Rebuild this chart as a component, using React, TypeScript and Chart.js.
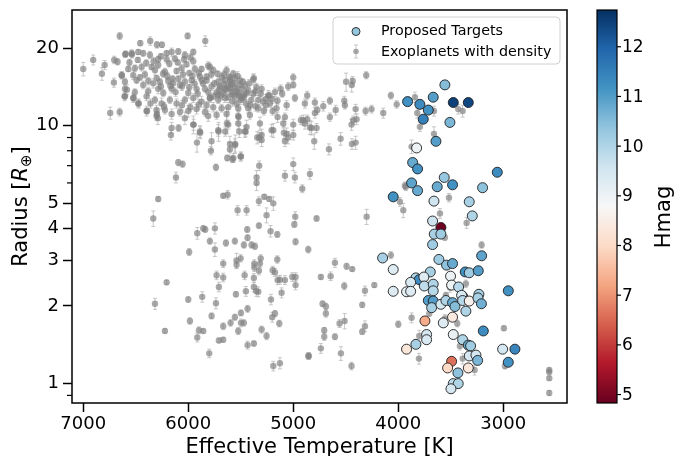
import { useEffect, useRef } from "react";
import { Chart, registerables } from "chart.js";

Chart.register(...registerables);

// Known exoplanets with measured density: [Teff (K), radius (R_earth), radius error]
const giantPlanets: [number, number, number][] = [
  [7000, 16.6, 1.0], [6905, 18.0, 0.8], [6822, 15.9, 0.9], [6796, 17.2, 0.7], [6705, 18.0, 0.6],
  [6673, 17.7, 0.5], [6653, 22.3, 0.7], [6708, 14.7, 0.6], [6743, 11.2, 0.6], [6653, 11.3, 0.4],
  [6600, 18.9, 0.5], [6631, 15.7, 0.5], [6606, 13.0, 0.5], [6584, 13.8, 0.6], [6536, 18.9, 0.6],
  [6457, 20.9, 0.5], [6362, 21.3, 0.8], [6298, 20.6, 0.6], [6250, 20.6, 0.5], [6006, 22.3, 0.6],
  [5838, 21.3, 1.0], [6520, 12.8, 0.4], [6472, 12.2, 0.5], [6393, 11.4, 0.3], [6298, 11.1, 0.5],
  [6289, 10.7, 0.6], [6165, 9.2, 0.4], [6092, 9.8, 0.3], [5949, 10.1, 0.5], [5886, 9.4, 0.5],
  [5917, 8.6, 0.7], [5711, 9.5, 0.8], [5648, 9.5, 0.4], [5632, 10.2, 0.9], [5520, 10.8, 0.6],
  [5552, 8.5, 0.7],
  [6596, 19.0, 0.5], [6539, 19.1, 0.6], [6476, 19.3, 0.4], [6429, 19.1, 0.5], [6365, 18.8, 0.6],
  [6286, 18.1, 0.5], [6206, 19.1, 0.4], [6158, 19.3, 0.7], [6095, 19.4, 0.5], [6032, 18.8, 0.6],
  [5952, 19.3, 0.5], [5952, 17.8, 0.6], [6016, 17.3, 0.4], [6127, 18.2, 0.5], [6206, 18.1, 0.6],
  [6286, 17.2, 0.5], [6349, 16.9, 0.4], [6444, 16.9, 0.6], [6508, 16.7, 0.5], [6571, 16.6, 0.4],
  [6635, 15.7, 0.5], [6524, 15.7, 0.6], [6413, 15.8, 0.5], [6317, 16.4, 0.7], [6222, 16.2, 0.5],
  [6111, 16.3, 0.4], [6063, 16.7, 0.6], [5937, 16.6, 0.5], [5873, 16.6, 0.4], [5794, 16.9, 0.6],
  [6603, 14.8, 0.5], [6492, 15.0, 0.4], [6429, 14.4, 0.5], [6333, 14.6, 0.6], [6270, 14.8, 0.4],
  [6190, 14.9, 0.5], [6143, 14.6, 0.6], [6095, 15.2, 0.4], [6032, 14.8, 0.5], [5968, 15.0, 0.3],
  [5889, 15.5, 0.5], [5825, 15.0, 0.4], [6603, 13.9, 0.5], [6508, 13.5, 0.4], [6381, 13.6, 0.5],
  [6286, 13.9, 0.6], [6238, 13.4, 0.4], [6158, 13.9, 0.5], [6079, 14.4, 0.4], [6000, 13.4, 0.6],
  [5921, 13.9, 0.5], [5841, 13.9, 0.4], [6603, 13.0, 0.4], [6524, 12.8, 0.5], [6476, 12.2, 0.4],
  [6397, 13.0, 0.5], [6317, 12.6, 0.4], [6254, 12.2, 0.6], [6175, 12.6, 0.4], [6111, 12.2, 0.5],
  [6032, 12.6, 0.4], [5952, 12.8, 0.5], [5873, 12.4, 0.6], [5794, 12.8, 0.4], [6302, 11.5, 0.5],
  [6222, 11.5, 0.4], [6158, 11.1, 0.5], [6079, 11.3, 0.4], [6000, 11.4, 0.6], [5921, 11.6, 0.5],
  [5841, 11.3, 0.4], [6397, 11.4, 0.5], [6302, 10.9, 0.4], [6158, 9.8, 0.5], [6032, 10.7, 0.6],
  [5952, 10.1, 0.8], [5889, 9.5, 0.5],
  [6200, 15.6, 0.5], [6150, 15.2, 0.4], [6050, 15.8, 0.5], [5990, 16.0, 0.4], [5900, 16.0, 0.5],
  [6260, 14.2, 0.4], [6120, 13.5, 0.5], [5990, 14.1, 0.4], [5940, 14.6, 0.5], [5860, 14.6, 0.4],
  [6360, 12.2, 0.5], [6230, 11.9, 0.4], [6060, 12.0, 0.5], [5980, 11.8, 0.4], [5900, 12.1, 0.5],
  [6560, 17.6, 0.5], [6480, 18.0, 0.4], [6400, 17.5, 0.5], [6330, 17.8, 0.6], [6260, 18.6, 0.4],
  [6180, 17.4, 0.5], [6100, 17.6, 0.4], [6040, 18.1, 0.5], [5980, 18.4, 0.6], [6460, 15.4, 0.4],
  [6380, 14.9, 0.5], [6300, 15.3, 0.4], [6240, 15.9, 0.5], [6170, 14.3, 0.4], [6060, 14.2, 0.5],
  [5960, 15.6, 0.4], [5910, 13.3, 0.5], [5870, 15.0, 0.4],
  [5810, 17.1, 0.6], [5762, 16.4, 0.5], [5635, 16.4, 0.6], [5571, 15.9, 0.5], [5825, 15.5, 0.4],
  [5714, 14.8, 0.5], [5651, 15.0, 0.4], [5603, 14.8, 0.5], [5508, 15.0, 0.6], [5381, 15.1, 0.7],
  [5778, 14.2, 0.5], [5698, 14.2, 0.4], [5619, 14.2, 0.5], [5556, 14.0, 0.6], [5460, 14.3, 0.5],
  [5810, 13.5, 0.4], [5730, 13.5, 0.5], [5667, 13.4, 0.4], [5587, 13.5, 0.5], [5524, 13.4, 0.4],
  [5429, 13.7, 0.5], [5794, 12.8, 0.5], [5714, 12.6, 0.4], [5651, 12.8, 0.5], [5556, 13.0, 0.4],
  [5492, 12.8, 0.5], [5444, 13.4, 0.4], [5333, 12.6, 0.5], [5238, 13.1, 0.6], [5825, 12.0, 0.4],
  [5762, 11.8, 0.5], [5682, 11.7, 0.4], [5619, 11.8, 0.5], [5524, 11.7, 0.4], [5429, 11.7, 0.5],
  [5333, 11.7, 0.4], [5159, 11.7, 0.6], [5063, 12.0, 0.5], [4889, 12.2, 0.5], [5810, 10.9, 0.5],
  [5730, 11.0, 0.4], [5635, 11.1, 0.6], [5524, 10.9, 0.5], [5413, 11.0, 0.4], [5524, 10.2, 0.5],
  [5444, 9.9, 0.6], [5714, 9.6, 0.5], [5619, 10.1, 0.4], [5460, 9.5, 0.5], [5317, 10.2, 0.6],
  [5301, 9.2, 0.5], [5190, 9.6, 0.6], [5063, 9.3, 0.5], [5079, 8.7, 0.4], [4905, 10.5, 0.5],
  [4825, 9.8, 0.6], [5603, 8.5, 0.6], [5556, 8.4, 0.5], [5778, 8.7, 0.7], [5603, 8.1, 0.5],
  [5750, 14.6, 0.4], [5700, 13.9, 0.5], [5660, 14.5, 0.4], [5640, 13.8, 0.5], [5600, 14.0, 0.4],
  [5580, 13.2, 0.5], [5560, 14.6, 0.4], [5540, 13.7, 0.5], [5510, 14.4, 0.4], [5490, 13.9, 0.5],
  [5470, 13.2, 0.4], [5690, 13.1, 0.5], [5620, 12.9, 0.4], [5580, 12.4, 0.5], [5540, 12.2, 0.4],
  [5680, 15.4, 0.5], [5610, 15.5, 0.4], [5530, 15.6, 0.6], [5760, 13.0, 0.4], [5500, 12.6, 0.5],
  [5450, 12.2, 0.4], [5400, 12.6, 0.5], [5380, 13.3, 0.4], [5350, 14.1, 0.5], [5290, 12.4, 0.4],
  [5780, 15.8, 0.5], [5720, 15.9, 0.4], [5660, 15.8, 0.5], [5600, 15.2, 0.4], [5560, 15.3, 0.5],
  [5480, 14.8, 0.4], [5420, 14.6, 0.5], [5720, 13.2, 0.4], [5650, 13.9, 0.5], [5590, 14.5, 0.4],
  [5520, 13.1, 0.5], [5470, 12.9, 0.4], [5360, 13.6, 0.5], [5310, 13.3, 0.4], [5260, 12.7, 0.5],
  [5410, 12.0, 0.4], [5360, 11.9, 0.5], [5280, 11.4, 0.4], [5200, 12.7, 0.5], [5150, 12.5, 0.4],
  [5120, 13.9, 0.5],
  [4305, 15.7, 0.5], [4497, 14.8, 1.2], [4434, 14.9, 0.6], [4443, 14.4, 0.9], [5000, 15.4, 0.5],
  [5000, 14.4, 0.4], [5048, 14.2, 0.5], [5105, 13.3, 0.4], [5174, 13.5, 0.5], [5229, 13.1, 0.4],
  [5301, 13.9, 0.5], [5375, 15.3, 0.6], [4867, 13.1, 0.5], [4984, 12.8, 0.4], [4794, 12.3, 0.5],
  [4651, 12.5, 0.4], [4514, 12.5, 0.5], [4508, 12.0, 0.4], [4406, 11.6, 0.5], [4311, 11.4, 0.4],
  [4254, 11.6, 0.4], [4143, 11.2, 0.5], [4070, 13.1, 0.4], [4015, 12.1, 0.4], [4397, 10.6, 0.5],
  [4429, 10.5, 0.4], [4445, 10.1, 0.5], [4596, 11.5, 0.5], [4651, 10.8, 0.4], [4714, 11.9, 0.5],
  [4771, 11.5, 0.4], [4794, 11.2, 0.5], [4867, 10.6, 0.4], [4841, 9.85, 0.6], [4778, 9.8, 0.4],
  [4889, 10.2, 0.5], [4927, 10.5, 0.4], [5000, 10.1, 0.5], [5079, 10.8, 0.4], [5149, 10.8, 0.5],
  [5196, 11.4, 0.4], [5260, 12.0, 0.5], [5222, 12.2, 0.4], [5206, 9.6, 0.5], [5095, 10.2, 0.4],
  [5089, 9.4, 0.5], [5000, 9.2, 0.4], [5048, 9.0, 0.5], [4800, 8.7, 0.6], [4660, 8.1, 0.4],
  [4549, 8.9, 0.5], [4441, 8.5, 0.4], [4406, 8.6, 0.5], [5301, 8.8, 0.5], [5324, 9.0, 0.4],
  [5343, 9.0, 0.5], [5454, 9.5, 0.4], [5514, 9.5, 0.5],
  [3841, 12.9, 0.6], [3819, 11.2, 0.5], [3794, 9.9, 0.4], [3660, 11.4, 0.5], [3660, 9.3, 0.6],
  [3429, 11.6, 0.5], [3387, 11.4, 0.6], [3873, 8.3, 0.5],
];

const midSizePlanets: [number, number, number][] = [
  [5571, 7.5, 0.3], [5498, 7.6, 0.3], [5324, 7.0, 0.3], [5000, 7.1, 0.4], [5079, 6.4, 0.3],
  [4984, 6.3, 0.3], [4841, 6.5, 0.3], [5349, 6.3, 0.4], [6095, 7.2, 0.2], [6054, 7.1, 0.2],
  [6117, 6.3, 0.3], [6286, 5.2, 0.1], [6333, 4.37, 0.3], [5736, 6.9, 0.2], [5629, 7.5, 0.2],
  [5578, 7.4, 0.2], [5501, 7.6, 0.3], [5784, 8.0, 0.3], [5349, 6.0, 0.4], [5667, 5.35, 0.1],
  [5625, 5.4, 0.2], [5327, 5.1, 0.2], [5276, 5.3, 0.1], [5229, 5.2, 0.1], [5190, 5.0, 0.3],
  [5254, 4.5, 0.3], [5530, 4.7, 0.2], [5444, 4.7, 0.2], [4914, 5.7, 0.2], [4778, 4.37, 0.1],
  [4301, 4.44, 0.3], [3937, 5.85, 0.2], [3984, 5.07, 0.2], [3952, 4.7, 0.3], [3927, 5.8, 0.2],
  [3517, 5.26, 0.2], [3603, 4.57, 0.2], [3349, 4.2, 0.2], [4981, 4.44, 0.2], [4990, 4.14, 0.1],
];

const smallPlanets: [number, number, number][] = [
  [5991, 3.24, 0.1], [5914, 3.83, 0.2], [5857, 4.0, 0.1], [5838, 3.96, 0.1], [5746, 4.0, 0.2],
  [5794, 3.57, 0.1], [5746, 3.31, 0.2], [5641, 3.51, 0.1], [5556, 3.57, 0.1], [5438, 3.96, 0.1],
  [5327, 4.1, 0.1], [5435, 3.68, 0.1], [5470, 3.45, 0.1], [5397, 3.45, 0.1], [5365, 3.41, 0.1],
  [5216, 3.9, 0.2], [5152, 3.79, 0.1], [4978, 3.55, 0.1], [4857, 3.31, 0.1], [5540, 3.0, 0.2],
  [5501, 3.06, 0.1], [5667, 2.92, 0.1], [5540, 2.89, 0.1], [5371, 2.92, 0.1], [5317, 2.92, 0.1],
  [5310, 3.06, 0.1], [5371, 2.82, 0.1], [5327, 2.74, 0.1], [5152, 3.03, 0.1], [5196, 2.75, 0.1],
  [5174, 2.7, 0.1], [5149, 2.52, 0.1], [5127, 2.53, 0.1], [5079, 2.52, 0.1], [5111, 2.25, 0.1],
  [5009, 2.59, 0.1], [4978, 2.59, 0.1], [4978, 2.41, 0.1], [5463, 2.63, 0.1], [5730, 2.63, 0.1],
  [5667, 2.58, 0.1], [5708, 2.37, 0.1], [5546, 2.22, 0.05], [5451, 2.28, 0.1], [5375, 2.57, 0.1],
  [5375, 2.37, 0.1], [5352, 2.28, 0.1], [5333, 2.27, 0.1], [5212, 2.12, 0.1], [5867, 2.17, 0.1],
  [6000, 2.12, 0.05], [6317, 2.04, 0.1], [6206, 2.47, 0.05], [5736, 2.05, 0.1], [5984, 1.75, 0.05],
  [6222, 1.6, 0.03], [5898, 1.61, 0.05], [5857, 1.6, 0.03], [5914, 1.51, 0.06], [5778, 1.83, 0.05],
  [5667, 1.67, 0.05], [5597, 1.72, 0.05], [5556, 1.81, 0.05], [5498, 1.88, 0.05], [5498, 1.72, 0.06],
  [5470, 1.72, 0.05], [5524, 1.6, 0.05], [5435, 1.95, 0.06], [5708, 1.47, 0.03], [5667, 1.48, 0.03],
  [5800, 1.31, 0.05], [5435, 1.41, 0.05], [5375, 1.43, 0.03], [5301, 1.62, 0.05], [5254, 1.53, 0.05],
  [5200, 1.81, 0.08], [5174, 1.87, 0.05], [5133, 1.71, 0.05], [5190, 1.17, 0.05], [5127, 1.2, 0.06],
  [4857, 1.28, 0.04], [4737, 2.59, 0.05], [4644, 2.61, 0.1], [4603, 2.94, 0.12], [4492, 2.85, 0.08],
  [4438, 2.78, 0.05], [4514, 2.39, 0.08], [4317, 2.29, 0.1], [4228, 2.41, 0.05], [4070, 3.15, 0.1],
  [4721, 2.04, 0.05], [4689, 1.99, 0.06], [4689, 1.87, 0.06], [4343, 2.02, 0.05], [4559, 1.71, 0.06],
  [4511, 1.75, 0.12], [4317, 1.67, 0.08], [4343, 1.59, 0.04], [4705, 1.61, 0.04], [4705, 1.52, 0.05],
  [4603, 1.52, 0.04], [4737, 1.37, 0.06], [4851, 1.28, 0.04], [4546, 1.31, 0.08], [4445, 1.17, 0.04],
  [4000, 1.7, 0.05], [3556, 3.69, 0.1], [3206, 3.45, 0.1], [3356, 2.44, 0.08], [3483, 2.43, 0.08],
  [3508, 2.36, 0.1], [3546, 2.2, 0.06], [3705, 1.87, 0.05], [3556, 1.79, 0.06], [3438, 1.71, 0.05],
  [3873, 1.8, 0.08], [3800, 1.53, 0.08], [3413, 1.4, 0.05], [3387, 1.25, 0.06], [3803, 1.25, 0.06],
  [2994, 1.64, 0.03], [2984, 1.17, 0.03], [3273, 1.13, 0.05], [2562, 1.13, 0.02], [2562, 1.11, 0.02],
  [2562, 1.05, 0.02], [2562, 0.92, 0.02],
];

// Proposed targets: [Teff (K), radius (R_earth), H magnitude]
const proposedTargets: [number, number, number][] = [
  [3556, 14.4, 10.5], [3911, 12.4, 11.2], [3794, 12.1, 11.3], [3667, 12.9, 11.0], [3714, 11.5, 11.2],
  [3762, 10.6, 11.5], [3476, 12.3, 12.5], [3333, 12.3, 12.4], [3508, 10.3, 10.6], [3641, 8.7, 11.0],
  [3825, 8.2, 9.0], [3863, 7.2, 10.8], [3816, 6.8, 11.2], [3057, 6.6, 11.3], [3562, 6.3, 10.3],
  [3873, 6.0, 10.9], [3816, 5.6, 10.8], [3629, 5.8, 10.8], [3483, 5.9, 11.2], [3197, 5.75, 10.4],
  [4048, 5.3, 11.2], [3660, 5.1, 9.6], [3324, 5.07, 10.1], [3673, 4.27, 9.6], [3295, 4.47, 10.0],
  [3594, 4.03, 4.9], [3657, 3.8, 10.1], [3594, 3.8, 10.2], [3673, 3.46, 10.2], [4149, 3.07, 10.1],
  [4048, 2.77, 9.3], [3613, 3.03, 10.2], [3540, 2.88, 10.4], [3483, 2.92, 10.8], [3695, 2.71, 10.1],
  [3502, 2.61, 9.0], [3362, 2.71, 11.2], [3324, 2.69, 10.2], [3238, 2.74, 11.0], [3206, 3.13, 10.9],
  [3832, 2.57, 10.0], [3800, 2.53, 11.3], [3756, 2.59, 9.3], [3882, 2.47, 9.4], [4048, 2.28, 9.3],
  [3921, 2.27, 9.2], [3882, 2.28, 9.3], [3752, 2.39, 9.8], [3667, 2.43, 10.0], [3667, 2.29, 9.9],
  [3492, 2.41, 9.0], [3425, 2.37, 9.9], [3387, 2.18, 9.5], [3232, 2.22, 10.1], [2952, 2.29, 11.2],
  [3714, 2.1, 11.0], [3667, 2.09, 11.0], [3682, 1.97, 10.1], [3594, 2.03, 9.5], [3546, 2.1, 10.0],
  [3483, 2.06, 10.8], [3460, 1.99, 10.5], [3397, 2.2, 9.4], [3387, 2.1, 9.9], [3324, 2.09, 8.6],
  [3356, 1.91, 10.0], [3241, 2.15, 10.1], [3208, 2.04, 10.7], [3746, 1.75, 7.3], [3571, 1.72, 9.3],
  [3483, 1.81, 8.4], [3730, 1.55, 9.5], [3730, 1.48, 9.4], [3476, 1.55, 9.1], [3387, 1.48, 10.0],
  [3190, 1.6, 11.3], [3832, 1.42, 10.1], [3921, 1.36, 8.3], [3333, 1.41, 10.8], [3311, 1.4, 10.2],
  [3006, 1.36, 9.5], [2889, 1.36, 11.4], [3324, 1.28, 9.5], [3260, 1.29, 9.5], [3244, 1.23, 10.6],
  [3492, 1.22, 6.6], [3530, 1.15, 8.0], [3333, 1.15, 8.3], [3432, 1.1, 10.4], [2952, 1.21, 11.2],
  [3476, 1.0, 9.8], [3429, 1.0, 10.0], [3498, 0.955, 9.5],
];

const tempRange = [2393, 7107];
const radiusRange = [0.841, 28.1];
const hmagRange = [4.83, 12.74];
const tempTicks = [7000, 6000, 5000, 4000, 3000];
const radiusTicks = [1, 2, 3, 4, 5, 10, 20];
const radiusMinorTicks = [0.9, 6, 7, 8, 9];
const hmagTicks = [5, 6, 7, 8, 9, 10, 11, 12];

const FONT = "'DejaVu Sans', sans-serif";

// Diverging red-blue palette, low magnitudes red, high magnitudes blue
const RDBU: [number, number, number][] = [
  [103, 0, 31], [178, 24, 43], [214, 96, 77], [244, 165, 130], [253, 219, 199],
  [247, 247, 247], [209, 229, 240], [146, 197, 222], [67, 147, 195], [33, 102, 172], [5, 48, 97],
];

function rdbuColor(t: number): string {
  const c = Math.min(1, Math.max(0, t)) * (RDBU.length - 1);
  const i = Math.min(RDBU.length - 2, Math.floor(c));
  const f = c - i;
  const a = RDBU[i];
  const b = RDBU[i + 1];
  const mix = (k: number) => Math.round(a[k] + (b[k] - a[k]) * f);
  return `rgb(${mix(0)},${mix(1)},${mix(2)})`;
}

function hmagColor(h: number): string {
  return rdbuColor((h - hmagRange[0]) / (hmagRange[1] - hmagRange[0]));
}

const allPlanets = [...giantPlanets, ...midSizePlanets, ...smallPlanets];

const ERR_COLOR = "rgba(185,185,185,0.8)";
const GRAY_FILL = "rgba(128,128,128,0.68)";

const errorBarPlugin = {
  id: "errorBars",
  beforeDatasetsDraw(chart: any) {
    const { ctx, chartArea } = chart;
    const xs = chart.scales.x;
    const ys = chart.scales.y;
    ctx.save();
    ctx.beginPath();
    ctx.rect(chartArea.left, chartArea.top, chartArea.right - chartArea.left, chartArea.bottom - chartArea.top);
    ctx.clip();
    ctx.strokeStyle = ERR_COLOR;
    ctx.lineWidth = 1;
    for (const [t, r, e] of allPlanets) {
      const x = xs.getPixelForValue(t);
      const y1 = ys.getPixelForValue(r - e);
      const y2 = ys.getPixelForValue(r + e);
      ctx.beginPath();
      ctx.moveTo(x, y1);
      ctx.lineTo(x, y2);
      ctx.moveTo(x - 2, y1);
      ctx.lineTo(x + 2, y1);
      ctx.moveTo(x - 2, y2);
      ctx.lineTo(x + 2, y2);
      ctx.stroke();
    }
    ctx.restore();
  },
};

const decorPlugin = {
  id: "decor",
  afterDraw(chart: any) {
    const { ctx, chartArea } = chart;
    const ys = chart.scales.y;
    const { left, top, right, bottom } = chartArea;
    ctx.save();

    // frame
    ctx.strokeStyle = "#000";
    ctx.lineWidth = 1.5;
    ctx.strokeRect(left, top, right - left, bottom - top);

    // minor radius ticks
    ctx.lineWidth = 1.2;
    for (const v of radiusMinorTicks) {
      const y = ys.getPixelForValue(v);
      ctx.beginPath();
      ctx.moveTo(left, y);
      ctx.lineTo(left - 5, y);
      ctx.stroke();
    }

    // axis titles
    ctx.fillStyle = "#000";
    ctx.textAlign = "center";
    ctx.textBaseline = "alphabetic";
    ctx.font = `21px ${FONT}`;
    ctx.fillText("Effective Temperature [K]", (left + right) / 2, 453);

    // y title: Radius [R⊕] with italic R and subscript
    const parts = [
      { text: "Radius [", font: `21px ${FONT}`, dy: 0 },
      { text: "R", font: `italic 21px ${FONT}`, dy: 0 },
      { text: "⊕", font: `15px ${FONT}`, dy: 4 },
      { text: "]", font: `21px ${FONT}`, dy: 0 },
    ];
    let total = 0;
    const widths = parts.map((p) => {
      ctx.font = p.font;
      const w = ctx.measureText(p.text).width;
      total += w;
      return w;
    });
    ctx.save();
    ctx.translate(27, (top + bottom) / 2);
    ctx.rotate(-Math.PI / 2);
    ctx.textAlign = "left";
    let cx = -total / 2;
    parts.forEach((p, i) => {
      ctx.font = p.font;
      ctx.fillText(p.text, cx, p.dy);
      cx += widths[i];
    });
    ctx.restore();

    // colorbar
    const cbL = 597;
    const cbR = 617;
    const grad = ctx.createLinearGradient(0, bottom, 0, top);
    RDBU.forEach((c, i) => grad.addColorStop(i / (RDBU.length - 1), `rgb(${c[0]},${c[1]},${c[2]})`));
    ctx.fillStyle = grad;
    ctx.fillRect(cbL, top, cbR - cbL, bottom - top);
    ctx.strokeStyle = "#000";
    ctx.lineWidth = 1.2;
    ctx.strokeRect(cbL, top, cbR - cbL, bottom - top);
    const hmagY = (v: number) => bottom - ((v - hmagRange[0]) / (hmagRange[1] - hmagRange[0])) * (bottom - top);
    ctx.fillStyle = "#000";
    ctx.font = `17px ${FONT}`;
    ctx.textAlign = "left";
    ctx.textBaseline = "middle";
    for (const v of hmagTicks) {
      const y = hmagY(v);
      ctx.beginPath();
      ctx.moveTo(cbR, y);
      ctx.lineTo(cbR + 4, y);
      ctx.stroke();
      ctx.fillText(String(v), cbR + 5, y + 1);
    }
    ctx.save();
    ctx.translate(670, 217);
    ctx.rotate(-Math.PI / 2);
    ctx.textAlign = "center";
    ctx.textBaseline = "alphabetic";
    ctx.font = `21px ${FONT}`;
    ctx.fillText("Hmag", 0, 0);
    ctx.restore();

    // legend
    const lx = 333;
    const ly = 17;
    const lw = 227;
    const lh = 47;
    ctx.beginPath();
    ctx.roundRect(lx, ly, lw, lh, 4);
    ctx.fillStyle = "rgba(255,255,255,0.85)";
    ctx.fill();
    ctx.strokeStyle = "#d0d0d0";
    ctx.lineWidth = 1;
    ctx.stroke();

    ctx.beginPath();
    ctx.arc(356, 31.5, 4, 0, Math.PI * 2);
    ctx.fillStyle = "rgb(150,199,224)";
    ctx.fill();
    ctx.strokeStyle = "#333";
    ctx.lineWidth = 1;
    ctx.stroke();

    ctx.strokeStyle = ERR_COLOR;
    ctx.beginPath();
    ctx.moveTo(356, 45);
    ctx.lineTo(356, 58);
    ctx.moveTo(354, 45);
    ctx.lineTo(358, 45);
    ctx.moveTo(354, 58);
    ctx.lineTo(358, 58);
    ctx.stroke();
    ctx.beginPath();
    ctx.arc(356, 51.5, 2.8, 0, Math.PI * 2);
    ctx.fillStyle = GRAY_FILL;
    ctx.fill();

    ctx.fillStyle = "#000";
    ctx.font = `14.3px ${FONT}`;
    ctx.textAlign = "left";
    ctx.textBaseline = "alphabetic";
    ctx.fillText("Proposed Targets", 381, 35);
    ctx.fillText("Exoplanets with density", 381, 56);

    ctx.restore();
  },
};

export default function App() {
  const canvasRef = useRef<HTMLCanvasElement | null>(null);

  useEffect(() => {
    if (!canvasRef.current) return;
    const chart = new Chart(canvasRef.current, {
      type: "scatter",
      data: {
        datasets: [
          {
            label: "Proposed Targets",
            data: proposedTargets.map(([t, r]) => ({ x: t, y: r })),
            backgroundColor: proposedTargets.map(([, , h]) => hmagColor(h)),
            borderColor: "rgba(30,30,30,0.9)",
            borderWidth: 1,
            pointRadius: 5,
            order: 0,
          },
          {
            label: "Exoplanets with density",
            data: allPlanets.map(([t, r]) => ({ x: t, y: r })),
            backgroundColor: GRAY_FILL,
            borderWidth: 0,
            pointRadius: 3.2,
            order: 1,
          },
        ],
      },
      options: {
        animation: false,
        responsive: false,
        devicePixelRatio: 1,
        events: [],
        layout: { padding: { left: 0, top: 10, right: 108, bottom: 0 } },
        plugins: { legend: { display: false }, tooltip: { enabled: false } },
        scales: {
          x: {
            type: "linear",
            reverse: true,
            min: tempRange[0],
            max: tempRange[1],
            afterBuildTicks: (s: any) => {
              s.ticks = tempTicks.map((v) => ({ value: v }));
            },
            afterFit: (s: any) => {
              s.height = 53;
              s.paddingLeft = 0;
              s.paddingRight = 0;
            },
            border: { display: false },
            grid: { drawOnChartArea: false, drawTicks: true, tickLength: 9, tickWidth: 1.5, tickColor: "#000" },
            ticks: {
              color: "#000",
              font: { family: FONT, size: 18 },
              padding: 2,
              maxRotation: 0,
              callback: (v: any) => String(v),
            },
          },
          y: {
            type: "logarithmic",
            min: radiusRange[0],
            max: radiusRange[1],
            afterBuildTicks: (s: any) => {
              s.ticks = radiusTicks.map((v) => ({ value: v }));
            },
            afterFit: (s: any) => {
              s.width = 72;
              s.paddingTop = 0;
              s.paddingBottom = 0;
            },
            border: { display: false },
            grid: { drawOnChartArea: false, drawTicks: true, tickLength: 9, tickWidth: 1.5, tickColor: "#000" },
            ticks: {
              color: "#000",
              font: { family: FONT, size: 18 },
              padding: 4,
              callback: (v: any) => String(v),
            },
          },
        },
      },
      plugins: [errorBarPlugin, decorPlugin],
    });
    return () => chart.destroy();
  }, []);

  return (
    <div style={{ position: "fixed", left: 0, top: 0, width: 675, height: 456, background: "#fff" }}>
      <canvas ref={canvasRef} width={675} height={456} style={{ display: "block" }} />
    </div>
  );
}
